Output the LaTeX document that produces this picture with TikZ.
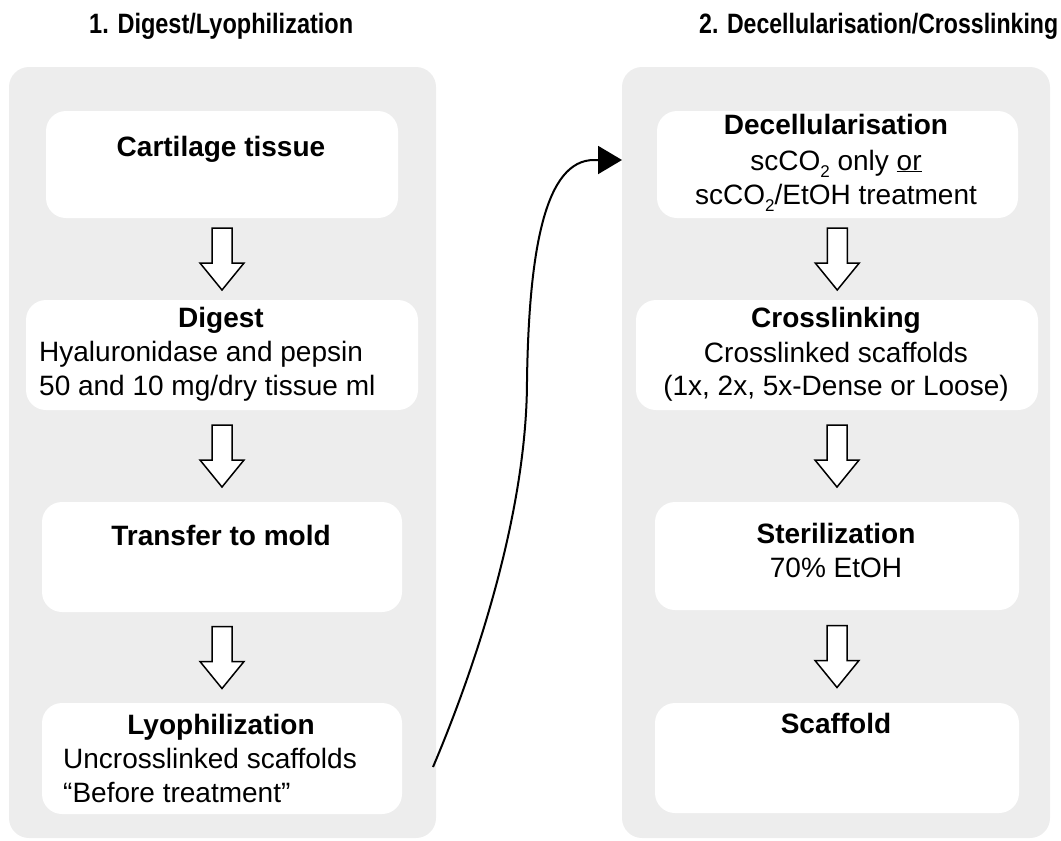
\documentclass[tikz,border=0pt]{standalone}
\usepackage{fontspec}
\usepackage{graphicx}
\setmainfont{Liberation Sans}
\usetikzlibrary{arrows.meta,calc}
\definecolor{panelgray}{HTML}{EDEDED}
\newcommand{\subtwo}{\raisebox{-0.5ex}{\fontsize{17}{17}\selectfont 2}}
\begin{document}
\begin{tikzpicture}[x=1pt,y=-1pt,
  panel/.style={fill=panelgray, rounded corners=20pt, inner sep=0pt, outer sep=0pt, anchor=north west},
  stepbox/.style={fill=white, rounded corners=20pt, inner sep=0pt, outer sep=0pt, anchor=north west},
  lbl/.style={font=\fontsize{28}{34}\selectfont, inner sep=0pt, anchor=base},
  ttl/.style={lbl, font=\fontsize{28}{34}\selectfont\bfseries},
  blk/.style={draw=black, fill=white, line width=1.5pt, line join=miter},
  flow/.style={line width=2pt, -{Triangle[length=24pt,width=28pt]}},
  dnarrow/.pic={\draw[blk] (-10,-31) -- (10,-31) -- (10,4) -- (22,4) -- (0,31) -- (-22,4) -- (-10,4) -- cycle;}
]
\useasboundingbox (0,0) rectangle (1061,841);

% titles
\node[ttl, anchor=base west] (T1) at (89,33) {\scalebox{0.84}[1]{1. Digest/Lyophilization}};
\node[ttl, anchor=base west] (T2) at (699,33) {\scalebox{0.825}[1]{2. Decellularisation/Crosslinking}};

% panels
\node[panel, minimum width=427pt, minimum height=771pt] (P1) at (9,67) {};
\node[panel, minimum width=428pt, minimum height=771pt] (P2) at (622,67) {};

% left boxes
\node[stepbox, minimum width=352pt, minimum height=107pt] (L1) at (46,111) {};
\node[stepbox, minimum width=392pt, minimum height=110pt] (L2) at (26,300) {};
\node[stepbox, minimum width=360pt, minimum height=110pt] (L3) at (42,502) {};
\node[stepbox, minimum width=360pt, minimum height=111pt] (L4) at (42,703) {};

% right boxes
\node[stepbox, minimum width=361pt, minimum height=107pt] (R1) at (657,111) {};
\node[stepbox, minimum width=402pt, minimum height=110pt] (R2) at (636,300) {};
\node[stepbox, minimum width=364pt, minimum height=108pt] (R3) at (655,502) {};
\node[stepbox, minimum width=364pt, minimum height=110pt] (R4) at (655,703) {};

% left texts
\node[ttl] (L1t) at (221,156) {Cartilage tissue};
\node[ttl] (L2t) at (221,327) {Digest};
\node[lbl, anchor=base west] (L2a) at (39,361) {Hyaluronidase and pepsin};
\node[lbl, anchor=base west] (L2b) at (39,395) {50 and 10 mg/dry tissue ml};
\node[ttl] (L3t) at (221,545) {Transfer to mold};
\node[ttl] (L4t) at (221,734) {Lyophilization};
\node[lbl, anchor=base west] (L4a) at (63,768) {Uncrosslinked scaffolds};
\node[lbl, anchor=base west] (L4b) at (63,802) {“Before treatment”};

% right texts
\node[ttl] (R1t) at (836,134) {Decellularisation};
\node[lbl] (R1a) at (836,170) {scCO\subtwo{} only \underline{or}};
\node[lbl] (R1b) at (836,204) {scCO\subtwo/EtOH treatment};
\node[ttl] (R2t) at (836,327) {Crosslinking};
\node[lbl] (R2a) at (836,362) {Crosslinked scaffolds};
\node[lbl] (R2b) at (836,395) {(1x, 2x, 5x-Dense or Loose)};
\node[ttl] (R3t) at (836,543) {Sterilization};
\node[lbl] (R3a) at (836,577) {70\% EtOH};
\node[ttl] (R4t) at (836,733) {Scaffold};

% block arrows
\pic at ($(L1.south)!0.5!(L2.north)$) {dnarrow};
\pic at ($(L2.south)!0.5!(L3.north)$) {dnarrow};
\pic at ($(L3.south)!0.5!(L4.north)$) {dnarrow};
\pic at ($(R1.south)!0.5!(R2.north)$) {dnarrow};
\pic at ($(R2.south)!0.5!(R3.north)$) {dnarrow};
\pic at ($(R3.south)!0.5!(R4.north)$) {dnarrow};

% curved connector
\coordinate (cs) at (433,767);
\coordinate (ce) at (622,160);
\draw[flow] (cs) .. controls (470,680) and (527,520) .. (527,380)
  .. controls (529,250) and (545,160) .. (594,160) -- (ce);
\end{tikzpicture}
\end{document}
